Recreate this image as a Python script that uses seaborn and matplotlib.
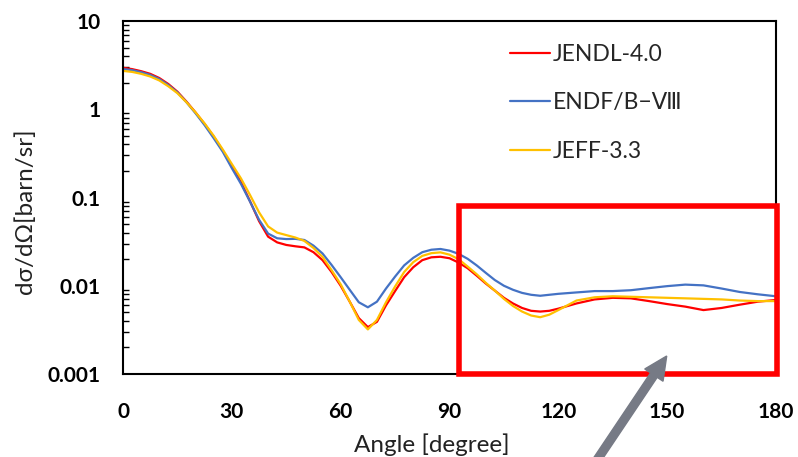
import numpy as np
import pandas as pd
import matplotlib
matplotlib.use("Agg")
import matplotlib.pyplot as plt
from matplotlib.patches import Rectangle, FancyArrow
from matplotlib.transforms import IdentityTransform
from matplotlib.ticker import FixedLocator, FuncFormatter, LogLocator, NullFormatter
import seaborn as sns

# ---- data ----
angle = [0, 2.5, 5, 7.5, 10, 12.5, 15, 17.5, 20, 22.5, 25, 27.5, 30, 32.5, 35, 37.5, 40, 42.5,
         45, 47.5, 50, 52.5, 55, 57.5, 60, 62.5, 65, 67.5, 70, 72.5, 75, 77.5, 80, 82.5, 85,
         87.5, 90, 92.5, 95, 97.5, 100, 102.5, 105, 107.5, 110, 112.5, 115, 117.5, 120, 125,
         130, 135, 140, 145, 150, 155, 160, 165, 170, 175, 180]
jendl = [2.95, 2.85, 2.70, 2.52, 2.26, 1.93, 1.58, 1.22, 0.92, 0.68, 0.49, 0.34, 0.225, 0.150,
         0.091, 0.054, 0.036, 0.031, 0.029, 0.0280, 0.0272, 0.0240, 0.0195, 0.0143, 0.0100,
         0.0066, 0.0043, 0.0034, 0.0039, 0.0060, 0.0087, 0.0125, 0.0162, 0.0195, 0.0210,
         0.0213, 0.0205, 0.0183, 0.0158, 0.0130, 0.0106, 0.0088, 0.0073, 0.0063, 0.0056,
         0.0052, 0.0051, 0.0052, 0.0055, 0.0063, 0.0070, 0.0073, 0.0072, 0.0067, 0.0062,
         0.0058, 0.0053, 0.0056, 0.0061, 0.0066, 0.0069]
endf = [2.85, 2.78, 2.63, 2.45, 2.20, 1.88, 1.55, 1.20, 0.90, 0.66, 0.47, 0.33, 0.215, 0.143,
        0.090, 0.056, 0.039, 0.0345, 0.0338, 0.0340, 0.0330, 0.0285, 0.0232, 0.0172, 0.0125,
        0.0090, 0.0065, 0.0057, 0.0066, 0.0093, 0.0127, 0.0170, 0.0207, 0.0240, 0.0256,
        0.0261, 0.0250, 0.0230, 0.0202, 0.0170, 0.0140, 0.0116, 0.0100, 0.0090, 0.0083,
        0.0079, 0.0077, 0.0079, 0.0081, 0.0084, 0.0087, 0.0087, 0.0089, 0.0094, 0.0099,
        0.0103, 0.0101, 0.0093, 0.0085, 0.0080, 0.0076]
jeff = [2.72, 2.65, 2.52, 2.35, 2.12, 1.82, 1.52, 1.20, 0.92, 0.69, 0.50, 0.35, 0.24, 0.165,
        0.107, 0.068, 0.047, 0.040, 0.0375, 0.0352, 0.0322, 0.0268, 0.0212, 0.0150, 0.0104,
        0.0066, 0.0041, 0.0032, 0.0041, 0.0065, 0.0098, 0.0143, 0.0185, 0.0218, 0.0234,
        0.0239, 0.0225, 0.0200, 0.0165, 0.0135, 0.0108, 0.0088, 0.0071, 0.0059, 0.0051,
        0.0046, 0.0044, 0.0047, 0.0053, 0.0068, 0.0074, 0.0076, 0.0075, 0.0074, 0.0073,
        0.0072, 0.0071, 0.0070, 0.0068, 0.0067, 0.0067]
series_names = ["JENDL-4.0", "ENDF/B\u2212\u2167", "JEFF-3.3"]
colors = ["#FF0000", "#4472C4", "#FFC000"]
xticks = [0, 30, 60, 90, 120, 150, 180]
yticks = [0.001, 0.01, 0.1, 1, 10]

df = pd.DataFrame({
    "angle": angle * 3,
    "value": jendl + endf + jeff,
    "library": [series_names[0]] * len(angle) + [series_names[1]] * len(angle) + [series_names[2]] * len(angle),
})

sns.set_theme(style="white")
plt.rcParams["font.family"] = ["Lato", "DejaVu Sans", "Noto Sans CJK JP"]

W, H = 798, 457
fig = plt.figure(figsize=(W / 100, H / 100), dpi=100)
ax = fig.add_axes([123 / W, 1 - 374 / H, (776 - 123) / W, (374 - 21) / H])

sns.lineplot(data=df, x="angle", y="value", hue="library", hue_order=series_names,
             palette=colors, linewidth=1.6, ax=ax, estimator=None, sort=False)
for ln in ax.get_lines():
    ln.set_solid_joinstyle("round")
    ln.set_solid_capstyle("round")

ax.set_yscale("log")
ax.set_xlim(0, 180)
ax.set_ylim(0.001, 10)
ax.set_xticks(xticks)
ax.yaxis.set_major_locator(FixedLocator(yticks))
ax.yaxis.set_major_formatter(FuncFormatter(lambda v, p: f"{v:g}"))
ax.yaxis.set_minor_locator(LogLocator(base=10, subs=np.arange(2, 10)))
ax.yaxis.set_minor_formatter(NullFormatter())
ax.tick_params(axis="y", which="major", direction="in", length=6, width=1.3, color="black",
               pad=16, labelsize=15)
ax.tick_params(axis="y", which="minor", direction="in", length=4, width=1.0, color="black", left=True)
ax.tick_params(axis="x", which="both", length=0, pad=20, labelsize=15)
for lab in ax.get_xticklabels() + ax.get_yticklabels():
    lab.set_fontweight("bold")
    lab.set_color("black")

for sp in ax.spines.values():
    sp.set_visible(True)
    sp.set_color("black")
    sp.set_linewidth(1.5)

ax.set_xlabel("Angle [degree]", fontsize=17.5, color="#222222")
ax.set_ylabel("d\u03c3/d\u03a9[barn/sr]", fontsize=17.5, color="#222222")
ax.xaxis.set_label_coords((432 - 123) / (776 - 123), -(445 - 374) / (374 - 21), transform=ax.transAxes)
ax.xaxis.label.set_va("center")
ax.yaxis.set_label_coords(-(123 - 25) / (776 - 123), (374 - 211) / (374 - 21))
ax.yaxis.label.set_va("center")

handles, labels = ax.get_legend_handles_labels()
ax.legend(handles, labels, loc="upper left", bbox_to_anchor=(510 / W, 1 - 44 / H),
          bbox_transform=fig.transFigure, frameon=False, fontsize=16.5,
          handlelength=1.75, handletextpad=0.1, labelspacing=1.2, borderpad=0, borderaxespad=0)

# red highlight box
rect = Rectangle((92.7, 0.00099), 180.3 - 92.7, 0.0801 - 0.00099, fill=False,
                 edgecolor="#FF0000", linewidth=4.0, clip_on=False, zorder=5)
ax.add_patch(rect)

# gray arrow (pixel coordinates, origin bottom-left)
tip = np.array([666.7, H - 356.0])
d = np.array([67.7, 101.0])
d = d / np.linalg.norm(d)
start = tip - d * 220
arrow = FancyArrow(start[0], start[1], *(tip - start), width=8, head_width=22, head_length=23,
                   length_includes_head=True, transform=IdentityTransform(),
                   color="#767A85", clip_on=False, zorder=6)
fig.add_artist(arrow)

fig.savefig("out.png", dpi=100)
